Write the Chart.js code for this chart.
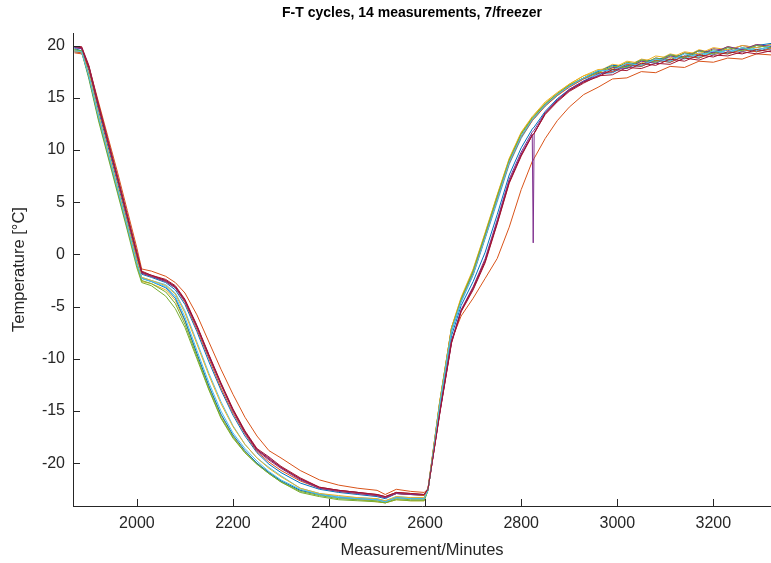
<!DOCTYPE html>
<html>
<head>
<meta charset="utf-8">
<script src="https://cdn.jsdelivr.net/npm/chart.js@4.4.1/dist/chart.umd.min.js"></script>
<style>
  html, body { margin: 0; padding: 0; background: #fff; }
</style>
</head>
<body>
<canvas id="chart" width="771" height="563"></canvas>
<script>
// Time axis shared by all 14 measurements (minutes)
const minutes = [1870, 1885, 1900, 1920, 1940, 1960, 1980, 2000, 2010, 2030,
  2060, 2080, 2100, 2125, 2150, 2175, 2200, 2225, 2250, 2275,
  2300, 2340, 2380, 2420, 2460, 2500, 2517, 2540, 2570, 2598,
  2606, 2630, 2655, 2675, 2700, 2725, 2750, 2775, 2800, 2823,
  2825, 2827, 2850, 2875, 2900, 2930, 2960, 2990, 3020, 3050,
  3080, 3110, 3140, 3170, 3200, 3230, 3260, 3290, 3320];

const xTicks = [2000, 2200, 2400, 2600, 2800, 3000, 3200];
const yTicks = [-20, -15, -10, -5, 0, 5, 10, 15, 20];

// Temperatures [°C], one array per measurement
const m1 = [19.8, 19.7, 17.6, 13.8, 10.3, 6.8, 3.2, -0.4, -1.9, -2.2,
  -2.7, -3.4, -4.8, -7.4, -10.3, -13.0, -15.4, -17.4, -19.0, -20.1,
  -20.9, -21.9, -22.5, -22.8, -23.0, -23.2, -23.4, -22.9, -23.0, -23.1,
  -22.4, -14.8, -7.8, -4.9, -2.6, 0.2, 3.8, 7.6, 10.2, 12.0,
  12.1, 12.2, 13.7, 14.9, 15.8, 16.6, 17.3, 17.4, 18.1, 18.0,
  18.6, 18.4, 19.0, 18.8, 19.4, 19.2, 19.7, 19.4, 19.8];
const m2 = [19.3, 19.2, 18.0, 14.6, 11.2, 7.8, 4.2, 0.6, -1.4, -1.6,
  -2.1, -2.7, -3.7, -5.8, -8.4, -11.0, -13.4, -15.6, -17.4, -18.8,
  -19.5, -20.7, -21.6, -22.1, -22.4, -22.6, -23.0, -22.5, -22.7, -22.8,
  -22.5, -15.2, -8.2, -5.9, -4.2, -2.3, -0.4, 2.6, 6.2, 8.9,
  9.0, 9.2, 11.1, 12.8, 14.1, 15.3, 16.0, 16.8, 16.9, 17.5,
  17.4, 18.0, 17.9, 18.5, 18.4, 18.8, 18.7, 19.2, 19.1];
const m3 = [19.5, 19.3, 17.1, 13.1, 9.6, 6.1, 2.6, -1.0, -2.6, -2.8,
  -3.4, -4.4, -6.4, -9.6, -12.7, -15.4, -17.4, -18.9, -20.0, -20.9,
  -21.7, -22.6, -23.0, -23.3, -23.5, -23.7, -23.8, -23.5, -23.6, -23.6,
  -22.6, -14.2, -7.0, -4.2, -1.7, 1.9, 5.6, 9.0, 11.6, 13.1,
  13.2, 13.3, 14.5, 15.4, 16.3, 17.1, 17.5, 18.2, 18.0, 18.7,
  18.5, 19.2, 18.9, 19.6, 19.3, 19.9, 19.6, 20.1, 19.9];
const m4 = [19.9, 19.8, 18.0, 14.3, 10.8, 7.3, 3.7, 0.1, -1.7, -2.1,
  -2.5, -3.1, -4.4, -6.9, -9.7, -12.4, -14.9, -17.0, -18.7, -19.5,
  -20.4, -21.5, -22.4, -22.6, -22.8, -23.1, -23.3, -22.9, -23.0, -23.0,
  -22.5, -15.3, -8.4, -5.4, -3.3, -0.7, 3.1, 7.0, 9.6, 11.5,
  1.1, 11.6, 13.5, 14.7, 15.7, 16.5, 17.3, 17.5, 18.3, 18.1,
  18.8, 18.6, 19.3, 19.1, 19.7, 19.5, 20.0, 19.8, 20.1];
const m5 = [19.6, 19.4, 16.8, 12.8, 9.3, 5.8, 2.3, -1.3, -2.7, -3.0,
  -4.0, -5.2, -7.0, -10.0, -13.0, -15.7, -17.6, -19.0, -20.1, -21.0,
  -21.8, -22.8, -23.2, -23.5, -23.6, -23.7, -23.8, -23.5, -23.6, -23.6,
  -22.6, -14.3, -7.1, -4.3, -1.5, 2.0, 5.6, 9.1, 11.6, 13.1,
  13.2, 13.3, 14.4, 15.4, 16.2, 16.9, 17.6, 17.7, 18.4, 18.2,
  18.8, 18.6, 19.3, 19.0, 19.6, 19.3, 19.8, 19.6, 19.9];
const m6 = [19.4, 19.3, 17.2, 13.3, 9.8, 6.3, 2.8, -0.8, -2.2, -2.5,
  -2.9, -3.7, -5.4, -8.4, -11.4, -14.1, -16.4, -18.2, -19.5, -20.4,
  -21.2, -22.4, -22.9, -23.2, -23.3, -23.4, -23.6, -23.2, -23.3, -23.3,
  -22.5, -14.6, -7.4, -4.6, -2.0, 1.5, 5.0, 8.6, 11.1, 12.8,
  12.9, 13.0, 14.2, 15.2, 16.1, 16.8, 17.2, 17.9, 17.8, 18.5,
  18.3, 18.9, 18.7, 19.3, 19.1, 19.6, 19.4, 19.8, 19.6];
const m7 = [19.9, 19.9, 18.1, 14.4, 10.9, 7.4, 3.8, 0.2, -1.6, -2.0,
  -2.4, -3.0, -4.3, -6.8, -9.6, -12.3, -14.8, -16.9, -18.6, -19.4,
  -20.3, -21.4, -22.3, -22.6, -22.8, -23.0, -23.2, -22.8, -22.9, -23.0,
  -22.5, -15.4, -8.5, -5.5, -3.4, -0.8, 2.9, 6.8, 9.4, 11.4,
  11.5, 11.6, 13.4, 14.6, 15.6, 16.4, 17.1, 17.2, 17.9, 17.8,
  18.3, 18.2, 18.8, 18.6, 19.1, 19.0, 19.4, 19.2, 19.5];
const m8 = [19.7, 19.5, 17.0, 13.1, 9.6, 6.1, 2.6, -0.9, -2.3, -2.6,
  -3.2, -4.2, -6.3, -9.5, -12.6, -15.3, -17.3, -18.8, -20.0, -20.9,
  -21.7, -22.6, -23.0, -23.3, -23.4, -23.5, -23.7, -23.3, -23.4, -23.4,
  -22.6, -14.5, -7.3, -4.4, -1.8, 1.7, 5.3, 8.8, 11.3, 12.9,
  13.0, 13.1, 14.3, 15.3, 16.1, 16.9, 17.5, 18.1, 18.0, 18.6,
  18.5, 19.1, 18.9, 19.5, 19.3, 19.8, 19.6, 20.0, 20.2];
const m9 = [19.4, 19.3, 17.8, 14.1, 10.6, 7.1, 3.5, -0.1, -1.8, -2.1,
  -2.6, -3.2, -4.6, -7.2, -10.0, -12.8, -15.2, -17.2, -18.9, -19.9,
  -20.7, -21.7, -22.4, -22.7, -22.9, -23.1, -23.3, -22.9, -23.0, -23.1,
  -22.4, -14.3, -7.0, -4.4, -1.9, 1.6, 5.2, 8.7, 11.2, 12.8,
  12.9, 13.0, 14.2, 15.2, 16.0, 16.8, 17.4, 17.5, 18.2, 18.0,
  18.6, 18.4, 19.0, 18.8, 19.3, 19.2, 19.6, 19.4, 19.7];
const m10 = [19.5, 19.4, 17.3, 13.4, 9.9, 6.4, 2.9, -0.6, -2.2, -2.5,
  -3.0, -3.8, -5.6, -8.6, -11.6, -14.3, -16.5, -18.2, -19.5, -20.5,
  -21.3, -22.4, -22.9, -23.1, -23.3, -23.4, -23.6, -23.2, -23.3, -23.3,
  -22.5, -14.2, -7.0, -4.1, -1.4, 2.1, 5.7, 9.2, 11.7, 13.2,
  13.3, 13.4, 14.6, 15.5, 16.3, 17.1, 17.7, 17.8, 18.5, 18.3,
  19.0, 18.8, 19.4, 19.2, 19.8, 19.6, 20.0, 19.8, 20.1];
const m11 = [19.8, 19.7, 17.9, 14.2, 10.7, 7.2, 3.6, 0.0, -1.8, -2.1,
  -2.6, -3.2, -4.5, -7.0, -9.8, -12.5, -15.0, -17.1, -18.8, -19.7,
  -20.5, -21.6, -22.4, -22.7, -22.9, -23.1, -23.3, -22.9, -23.0, -23.0,
  -22.5, -15.2, -8.3, -5.3, -3.1, -0.4, 3.3, 7.2, 9.8, 11.7,
  11.8, 11.9, 13.6, 14.8, 15.8, 16.6, 17.1, 17.9, 17.8, 18.5,
  18.3, 19.0, 18.8, 19.5, 19.3, 19.9, 19.6, 20.1, 19.9];
const m12 = [19.6, 19.5, 17.0, 13.0, 9.5, 6.0, 2.5, -1.0, -2.5, -2.8,
  -3.6, -4.7, -6.7, -9.8, -12.9, -15.6, -17.5, -19.0, -20.1, -21.0,
  -21.8, -22.7, -23.1, -23.4, -23.5, -23.6, -23.8, -23.4, -23.5, -23.5,
  -22.6, -14.4, -7.2, -4.3, -1.6, 1.9, 5.5, 9.0, 11.5, 13.0,
  13.1, 13.2, 14.4, 15.3, 16.2, 16.9, 17.4, 18.0, 17.9, 18.6,
  18.4, 19.1, 18.8, 19.5, 19.2, 19.8, 19.5, 20.0, 19.8];
const m13 = [19.5, 19.4, 17.1, 13.2, 9.7, 6.2, 2.7, -0.9, -2.3, -2.6,
  -3.1, -4.0, -6.0, -9.2, -12.3, -15.0, -17.1, -18.6, -19.8, -20.8,
  -21.6, -22.5, -23.0, -23.3, -23.4, -23.5, -23.7, -23.3, -23.4, -23.4,
  -22.6, -14.5, -7.3, -4.5, -1.9, 1.6, 5.2, 8.8, 11.3, 12.9,
  13.0, 13.1, 14.3, 15.3, 16.1, 16.9, 17.6, 17.6, 18.3, 18.1,
  18.7, 18.5, 19.2, 18.9, 19.5, 19.3, 19.8, 19.5, 20.0];
const m14 = [19.9, 19.8, 17.9, 14.2, 10.7, 7.2, 3.6, 0.0, -1.7, -2.0,
  -2.5, -3.1, -4.4, -6.9, -9.7, -12.4, -14.9, -17.0, -18.7, -19.6,
  -20.4, -21.5, -22.3, -22.6, -22.8, -23.0, -23.2, -22.8, -22.9, -23.0,
  -22.5, -15.3, -8.4, -5.4, -3.2, -0.6, 3.0, 6.9, 9.5, 11.4,
  11.5, 11.6, 13.5, 14.7, 15.7, 16.5, 17.0, 17.7, 17.6, 18.3,
  18.1, 18.7, 18.5, 19.1, 18.9, 19.4, 19.2, 19.6, 19.4];

const measurements = [m1, m2, m3, m4, m5, m6, m7, m8, m9, m10, m11, m12, m13, m14];

// MATLAB default line colour order
const lineColors = ['#0072BD', '#D95319', '#EDB120', '#7E2F8E', '#77AC30', '#4DBEEE', '#A2142F'];
const axisColor = '#262626';
const chartTitle = 'F-T cycles, 14 measurements, 7/freezer';

// inward tick marks + bold title, like the MATLAB figure
const matlabDecor = {
  id: 'matlabDecor',
  afterDatasetsDraw(chart) {
    const { ctx, chartArea, scales } = chart;
    ctx.save();
    ctx.strokeStyle = axisColor;
    ctx.lineWidth = 1;
    ctx.beginPath();
    xTicks.forEach(v => {
      const px = Math.round(scales.x.getPixelForValue(v)) + 0.5;
      ctx.moveTo(px, chartArea.bottom);
      ctx.lineTo(px, chartArea.bottom - 7);
    });
    yTicks.forEach(v => {
      const py = Math.round(scales.y.getPixelForValue(v)) + 0.5;
      ctx.moveTo(chartArea.left, py);
      ctx.lineTo(chartArea.left + 7, py);
    });
    ctx.stroke();

    ctx.fillStyle = '#000';
    ctx.font = 'bold 14px "Liberation Sans", Arial, sans-serif';
    ctx.textAlign = 'center';
    ctx.textBaseline = 'middle';
    ctx.fillText(chartTitle, 412, 13);
    ctx.restore();
  }
};

const datasets = measurements.map((vals, i) => ({
  label: 'Measurement ' + (i + 1),
  data: vals.map((v, j) => ({ x: minutes[j], y: v })),
  borderColor: lineColors[i % lineColors.length],
  borderWidth: 1,
  pointRadius: 0,
  tension: 0,
  order: measurements.length - i
}));

const tickFont = { family: '"Liberation Sans", Arial, sans-serif', size: 16 };
const labelFont = { family: '"Liberation Sans", Arial, sans-serif', size: 16.5 };

new Chart(document.getElementById('chart'), {
  type: 'line',
  data: { datasets },
  plugins: [matlabDecor],
  options: {
    responsive: false,
    animation: false,
    layout: { padding: { top: 33, right: 0, bottom: 0, left: 0 } },
    plugins: {
      legend: { display: false },
      tooltip: { enabled: false }
    },
    scales: {
      x: {
        type: 'linear',
        min: 1867,
        max: 3320,
        afterBuildTicks: s => { s.ticks = xTicks.map(v => ({ value: v })); },
        afterFit: s => { s.height = 57; },
        grid: { display: false, drawTicks: false },
        border: { display: true, color: axisColor, width: 1 },
        ticks: {
          color: axisColor,
          font: tickFont,
          padding: 8,
          maxRotation: 0,
          callback: v => String(v)
        },
        title: {
          display: true,
          text: 'Measurement/Minutes',
          color: axisColor,
          font: labelFont,
          padding: { top: 0, bottom: 3 }
        }
      },
      y: {
        min: -24.1,
        max: 21.2,
        afterBuildTicks: s => { s.ticks = yTicks.map(v => ({ value: v })); },
        afterFit: s => { s.width = 73; },
        grid: { display: false, drawTicks: false },
        border: { display: true, color: axisColor, width: 1 },
        ticks: {
          color: axisColor,
          font: tickFont,
          padding: 8,
          callback: v => String(v)
        },
        title: {
          display: true,
          text: 'Temperature [°C]',
          color: axisColor,
          font: labelFont,
          padding: { top: 10, bottom: 0 }
        }
      }
    }
  }
});
</script>
</body>
</html>
